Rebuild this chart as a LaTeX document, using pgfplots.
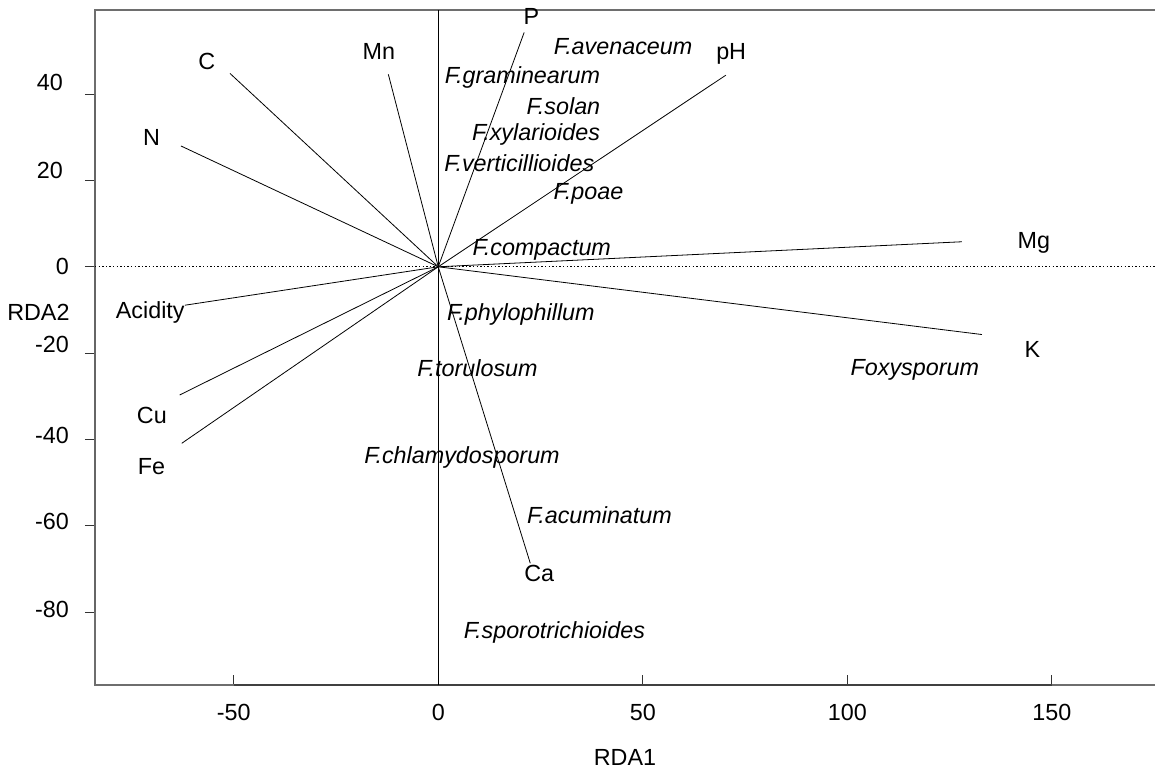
\documentclass[border=0pt]{standalone}
\usepackage{fontspec}
\setmainfont{Liberation Sans}
\usepackage{pgfplots}
\pgfplotsset{compat=1.18}
\usepackage{pgfplotstable}
\newcommand{\fsz}{\fontsize{17.5}{20}\selectfont}
\definecolor{boxgray}{RGB}{110,110,110}

% environmental vectors: start (ox,oy) and end (x,y)
\pgfplotstableread{
name ox oy x y
C 0 0 -50.9 44.8
N 0 0 -62.9 28.0
Mn 0 0 -12.2 44.6
P 0 0 21.0 54.3
pH 0 0 70.3 44.4
Mg 0 0 128.0 5.8
K 0 0 132.9 -15.7
Acidity 0 0 -61.9 -8.9
Cu 0 0 -63.2 -29.7
Fe 0 0 -62.7 -40.9
Ca 0 0 22.5 -68.7
}\vectors

% labels of the environmental vectors
\pgfplotstableread{
x y name
-56.6 47.5 C
-70.1 29.9 N
-14.5 49.8 Mn
22.8 57.9 P
71.6 49.4 pH
145.6 5.6 Mg
145.2 -19.1 K
-70.4 -10.6 Acidity
-70.0 -34.4 Cu
-70.1 -46.3 Fe
24.7 -71.0 Ca
}\envlabels

% species scores
\pgfplotstableread{
x y name
45.2 51.0 F.avenaceum
20.6 43.9 F.graminearum
30.6 37.3 F.solan
23.9 30.6 F.xylarioides
19.8 23.9 F.verticillioides
36.7 16.9 F.poae
25.3 3.8 F.compactum
20.2 -11.1 F.phylophillum
9.6 -23.6 F.torulosum
116.5 -24.0 Foxysporum
5.8 -44.2 F.chlamydosporum
39.4 -57.6 F.acuminatum
28.4 -84.7 F.sporotrichioides
}\species

\begin{document}
\begin{tikzpicture}
\begin{axis}[
  scale only axis,
  width=795pt, height=506.25pt,
  xmin=-83.9, xmax=175.2, ymin=-96.9, ymax=59.5,
  clip=false,
  axis x line*=bottom, axis y line*=left,
  axis line style={draw=none},
  xtick={-50,0,50,100,150},
  xticklabels={-50,0,50,100,150},
  ytick={-80,-60,-40,-20,0,20,40},
  yticklabels={\raisebox{4.5pt}{-80},\raisebox{6pt}{-60},\raisebox{6pt}{-40},\raisebox{13.5pt}{-20},0,\raisebox{15.4pt}{20\hspace{4.5pt}},\raisebox{18.4pt}{40\hspace{4.5pt}}},
  xtick align=inside, ytick align=outside,
  major tick length=7.5pt,
  tick style={black!80, line width=0.75pt},
  ticklabel style={font=\fsz},
  xticklabel shift=11pt,
  yticklabel shift=8.5pt,
  xlabel={RDA1}, ylabel={RDA2},
  every axis x label/.style={at={(rel axis cs:0.5,-0.1077)}, anchor=center, font=\fsz},
  every axis y label/.style={at={(rel axis cs:-0.0534,0.5526)}, anchor=center, font=\fsz},
]
% frame (no right side) and R-style axis lines
\draw[boxgray, line width=1.1pt] (rel axis cs:1,1) -- (rel axis cs:0,1) -- (rel axis cs:0,0) -- (rel axis cs:1,0);
\draw[black!75, line width=1pt] (axis cs:-50,-96.9) -- (axis cs:150,-96.9);
\draw[black!60, line width=1.4pt] (axis cs:-83.9,-80) -- (axis cs:-83.9,40);
% reference lines through the origin
\addplot[black, line width=0.6pt, dash pattern=on 1.1pt off 1.6pt] coordinates {(-83.9,0) (175.2,0)};
\addplot[black, line width=0.6pt] coordinates {(0,-96.9) (0,59.5)};
% environmental vectors
\addplot[black, line width=0.6pt, quiver={u=\thisrow{x}, v=\thisrow{y}}] table[x=ox, y=oy] {\vectors};
% vector labels
\addplot[only marks, mark=none, nodes near coords, point meta=explicit symbolic,
  nodes near coords style={anchor=center, inner sep=0pt, font=\fsz}] table[x=x, y=y, meta=name] {\envlabels};
% species labels
\addplot[only marks, mark=none, nodes near coords, point meta=explicit symbolic,
  nodes near coords style={anchor=center, inner sep=0pt, font=\fsz\itshape}] table[x=x, y=y, meta=name] {\species};
\end{axis}
\pgfresetboundingbox
\path[use as bounding box] ([xshift=-71.25pt, yshift=-63pt]current axis.south west) rectangle ([yshift=7.5pt]current axis.north east);
\end{tikzpicture}
\end{document}
